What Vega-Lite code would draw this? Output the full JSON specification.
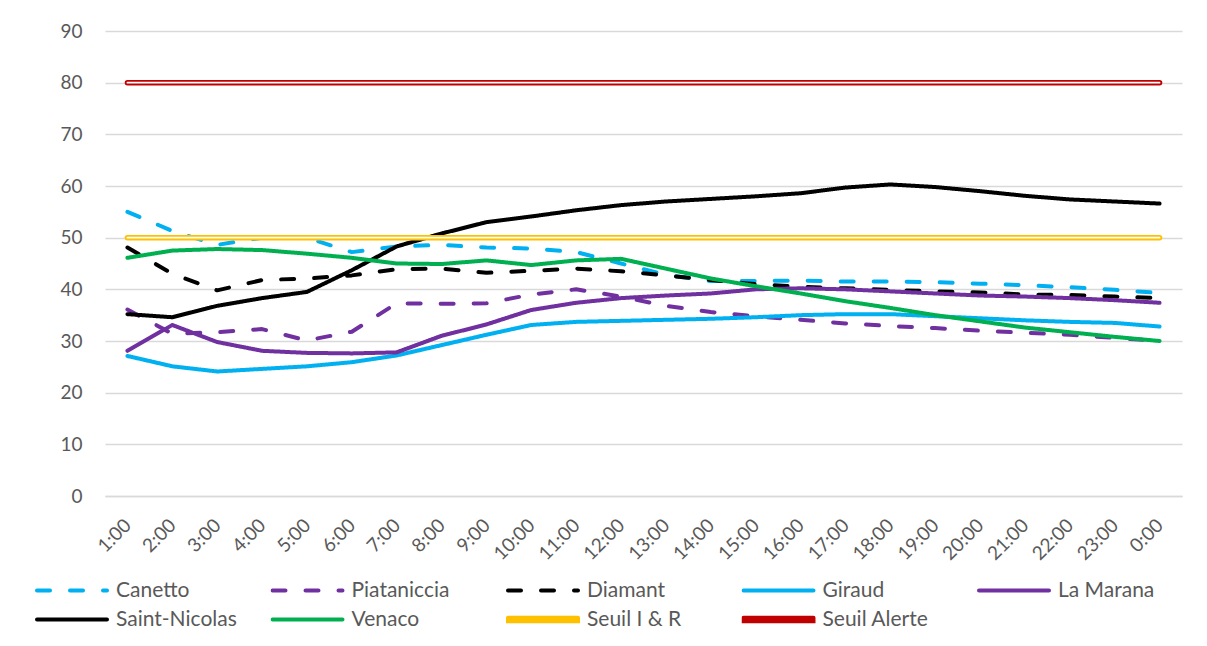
{
  "$schema": "https://vega.github.io/schema/vega-lite/v6.json",
  "autosize": "none",
  "width": 1077,
  "height": 465,
  "padding": {"left": 105, "top": 31, "right": 25, "bottom": 150},
  "background": "#ffffff",
  "config": {"view": {"stroke": null}, "font": "Lato"},
  "datasets": {
    "rows": [
      {"t":"1:00","s":"Canetto","v":55.0},{"t":"2:00","s":"Canetto","v":51.3},{"t":"3:00","s":"Canetto","v":48.6},{"t":"4:00","s":"Canetto","v":50.0},{"t":"5:00","s":"Canetto","v":50.0},{"t":"6:00","s":"Canetto","v":47.2},{"t":"7:00","s":"Canetto","v":48.3},{"t":"8:00","s":"Canetto","v":48.6},{"t":"9:00","s":"Canetto","v":48.1},{"t":"10:00","s":"Canetto","v":47.9},{"t":"11:00","s":"Canetto","v":47.2},{"t":"12:00","s":"Canetto","v":45.0},{"t":"13:00","s":"Canetto","v":42.8},{"t":"14:00","s":"Canetto","v":41.6},{"t":"15:00","s":"Canetto","v":41.6},{"t":"16:00","s":"Canetto","v":41.7},{"t":"17:00","s":"Canetto","v":41.5},{"t":"18:00","s":"Canetto","v":41.5},{"t":"19:00","s":"Canetto","v":41.4},{"t":"20:00","s":"Canetto","v":41.1},{"t":"21:00","s":"Canetto","v":40.8},{"t":"22:00","s":"Canetto","v":40.4},{"t":"23:00","s":"Canetto","v":39.9},{"t":"0:00","s":"Canetto","v":39.3},
      {"t":"1:00","s":"Piataniccia","v":36.1},{"t":"2:00","s":"Piataniccia","v":31.4},{"t":"3:00","s":"Piataniccia","v":31.7},{"t":"4:00","s":"Piataniccia","v":32.3},{"t":"5:00","s":"Piataniccia","v":30.1},{"t":"6:00","s":"Piataniccia","v":31.8},{"t":"7:00","s":"Piataniccia","v":37.3},{"t":"8:00","s":"Piataniccia","v":37.2},{"t":"9:00","s":"Piataniccia","v":37.3},{"t":"10:00","s":"Piataniccia","v":39.0},{"t":"11:00","s":"Piataniccia","v":40.0},{"t":"12:00","s":"Piataniccia","v":38.6},{"t":"13:00","s":"Piataniccia","v":36.8},{"t":"14:00","s":"Piataniccia","v":35.6},{"t":"15:00","s":"Piataniccia","v":34.8},{"t":"16:00","s":"Piataniccia","v":34.1},{"t":"17:00","s":"Piataniccia","v":33.4},{"t":"18:00","s":"Piataniccia","v":32.9},{"t":"19:00","s":"Piataniccia","v":32.5},{"t":"20:00","s":"Piataniccia","v":32.0},{"t":"21:00","s":"Piataniccia","v":31.6},{"t":"22:00","s":"Piataniccia","v":31.2},{"t":"23:00","s":"Piataniccia","v":30.6},{"t":"0:00","s":"Piataniccia","v":30.0},
      {"t":"1:00","s":"Diamant","v":48.1},{"t":"2:00","s":"Diamant","v":43.0},{"t":"3:00","s":"Diamant","v":39.8},{"t":"4:00","s":"Diamant","v":41.8},{"t":"5:00","s":"Diamant","v":42.1},{"t":"6:00","s":"Diamant","v":42.7},{"t":"7:00","s":"Diamant","v":43.9},{"t":"8:00","s":"Diamant","v":44.0},{"t":"9:00","s":"Diamant","v":43.2},{"t":"10:00","s":"Diamant","v":43.6},{"t":"11:00","s":"Diamant","v":44.0},{"t":"12:00","s":"Diamant","v":43.5},{"t":"13:00","s":"Diamant","v":42.7},{"t":"14:00","s":"Diamant","v":41.8},{"t":"15:00","s":"Diamant","v":41.0},{"t":"16:00","s":"Diamant","v":40.5},{"t":"17:00","s":"Diamant","v":40.2},{"t":"18:00","s":"Diamant","v":39.9},{"t":"19:00","s":"Diamant","v":39.6},{"t":"20:00","s":"Diamant","v":39.4},{"t":"21:00","s":"Diamant","v":39.0},{"t":"22:00","s":"Diamant","v":38.9},{"t":"23:00","s":"Diamant","v":38.6},{"t":"0:00","s":"Diamant","v":38.3},
      {"t":"1:00","s":"Giraud","v":27.1},{"t":"2:00","s":"Giraud","v":25.1},{"t":"3:00","s":"Giraud","v":24.1},{"t":"4:00","s":"Giraud","v":24.6},{"t":"5:00","s":"Giraud","v":25.1},{"t":"6:00","s":"Giraud","v":25.9},{"t":"7:00","s":"Giraud","v":27.2},{"t":"8:00","s":"Giraud","v":29.2},{"t":"9:00","s":"Giraud","v":31.2},{"t":"10:00","s":"Giraud","v":33.1},{"t":"11:00","s":"Giraud","v":33.7},{"t":"12:00","s":"Giraud","v":33.9},{"t":"13:00","s":"Giraud","v":34.1},{"t":"14:00","s":"Giraud","v":34.3},{"t":"15:00","s":"Giraud","v":34.6},{"t":"16:00","s":"Giraud","v":35.0},{"t":"17:00","s":"Giraud","v":35.2},{"t":"18:00","s":"Giraud","v":35.2},{"t":"19:00","s":"Giraud","v":34.8},{"t":"20:00","s":"Giraud","v":34.4},{"t":"21:00","s":"Giraud","v":34.0},{"t":"22:00","s":"Giraud","v":33.7},{"t":"23:00","s":"Giraud","v":33.5},{"t":"0:00","s":"Giraud","v":32.8},
      {"t":"1:00","s":"La Marana","v":28.1},{"t":"2:00","s":"La Marana","v":33.1},{"t":"3:00","s":"La Marana","v":29.8},{"t":"4:00","s":"La Marana","v":28.1},{"t":"5:00","s":"La Marana","v":27.7},{"t":"6:00","s":"La Marana","v":27.6},{"t":"7:00","s":"La Marana","v":27.8},{"t":"8:00","s":"La Marana","v":31.0},{"t":"9:00","s":"La Marana","v":33.2},{"t":"10:00","s":"La Marana","v":36.0},{"t":"11:00","s":"La Marana","v":37.4},{"t":"12:00","s":"La Marana","v":38.3},{"t":"13:00","s":"La Marana","v":38.8},{"t":"14:00","s":"La Marana","v":39.2},{"t":"15:00","s":"La Marana","v":40.0},{"t":"16:00","s":"La Marana","v":40.2},{"t":"17:00","s":"La Marana","v":40.0},{"t":"18:00","s":"La Marana","v":39.6},{"t":"19:00","s":"La Marana","v":39.2},{"t":"20:00","s":"La Marana","v":38.8},{"t":"21:00","s":"La Marana","v":38.6},{"t":"22:00","s":"La Marana","v":38.3},{"t":"23:00","s":"La Marana","v":37.9},{"t":"0:00","s":"La Marana","v":37.4},
      {"t":"1:00","s":"Saint-Nicolas","v":35.2},{"t":"2:00","s":"Saint-Nicolas","v":34.6},{"t":"3:00","s":"Saint-Nicolas","v":36.8},{"t":"4:00","s":"Saint-Nicolas","v":38.3},{"t":"5:00","s":"Saint-Nicolas","v":39.5},{"t":"6:00","s":"Saint-Nicolas","v":43.7},{"t":"7:00","s":"Saint-Nicolas","v":48.3},{"t":"8:00","s":"Saint-Nicolas","v":50.8},{"t":"9:00","s":"Saint-Nicolas","v":53.0},{"t":"10:00","s":"Saint-Nicolas","v":54.1},{"t":"11:00","s":"Saint-Nicolas","v":55.3},{"t":"12:00","s":"Saint-Nicolas","v":56.3},{"t":"13:00","s":"Saint-Nicolas","v":57.0},{"t":"14:00","s":"Saint-Nicolas","v":57.5},{"t":"15:00","s":"Saint-Nicolas","v":58.0},{"t":"16:00","s":"Saint-Nicolas","v":58.6},{"t":"17:00","s":"Saint-Nicolas","v":59.7},{"t":"18:00","s":"Saint-Nicolas","v":60.3},{"t":"19:00","s":"Saint-Nicolas","v":59.8},{"t":"20:00","s":"Saint-Nicolas","v":59.0},{"t":"21:00","s":"Saint-Nicolas","v":58.1},{"t":"22:00","s":"Saint-Nicolas","v":57.4},{"t":"23:00","s":"Saint-Nicolas","v":57.0},{"t":"0:00","s":"Saint-Nicolas","v":56.6},
      {"t":"1:00","s":"Venaco","v":46.1},{"t":"2:00","s":"Venaco","v":47.5},{"t":"3:00","s":"Venaco","v":47.8},{"t":"4:00","s":"Venaco","v":47.6},{"t":"5:00","s":"Venaco","v":46.9},{"t":"6:00","s":"Venaco","v":46.1},{"t":"7:00","s":"Venaco","v":45.0},{"t":"8:00","s":"Venaco","v":44.9},{"t":"9:00","s":"Venaco","v":45.6},{"t":"10:00","s":"Venaco","v":44.7},{"t":"11:00","s":"Venaco","v":45.6},{"t":"12:00","s":"Venaco","v":45.9},{"t":"13:00","s":"Venaco","v":44.0},{"t":"14:00","s":"Venaco","v":42.1},{"t":"15:00","s":"Venaco","v":40.6},{"t":"16:00","s":"Venaco","v":39.2},{"t":"17:00","s":"Venaco","v":37.7},{"t":"18:00","s":"Venaco","v":36.4},{"t":"19:00","s":"Venaco","v":35.0},{"t":"20:00","s":"Venaco","v":33.8},{"t":"21:00","s":"Venaco","v":32.6},{"t":"22:00","s":"Venaco","v":31.7},{"t":"23:00","s":"Venaco","v":30.8},{"t":"0:00","s":"Venaco","v":30.0},
      {"t":"1:00","s":"Seuil I & R","v":50},{"t":"2:00","s":"Seuil I & R","v":50},{"t":"3:00","s":"Seuil I & R","v":50},{"t":"4:00","s":"Seuil I & R","v":50},{"t":"5:00","s":"Seuil I & R","v":50},{"t":"6:00","s":"Seuil I & R","v":50},{"t":"7:00","s":"Seuil I & R","v":50},{"t":"8:00","s":"Seuil I & R","v":50},{"t":"9:00","s":"Seuil I & R","v":50},{"t":"10:00","s":"Seuil I & R","v":50},{"t":"11:00","s":"Seuil I & R","v":50},{"t":"12:00","s":"Seuil I & R","v":50},{"t":"13:00","s":"Seuil I & R","v":50},{"t":"14:00","s":"Seuil I & R","v":50},{"t":"15:00","s":"Seuil I & R","v":50},{"t":"16:00","s":"Seuil I & R","v":50},{"t":"17:00","s":"Seuil I & R","v":50},{"t":"18:00","s":"Seuil I & R","v":50},{"t":"19:00","s":"Seuil I & R","v":50},{"t":"20:00","s":"Seuil I & R","v":50},{"t":"21:00","s":"Seuil I & R","v":50},{"t":"22:00","s":"Seuil I & R","v":50},{"t":"23:00","s":"Seuil I & R","v":50},{"t":"0:00","s":"Seuil I & R","v":50},
      {"t":"1:00","s":"Seuil Alerte","v":80},{"t":"2:00","s":"Seuil Alerte","v":80},{"t":"3:00","s":"Seuil Alerte","v":80},{"t":"4:00","s":"Seuil Alerte","v":80},{"t":"5:00","s":"Seuil Alerte","v":80},{"t":"6:00","s":"Seuil Alerte","v":80},{"t":"7:00","s":"Seuil Alerte","v":80},{"t":"8:00","s":"Seuil Alerte","v":80},{"t":"9:00","s":"Seuil Alerte","v":80},{"t":"10:00","s":"Seuil Alerte","v":80},{"t":"11:00","s":"Seuil Alerte","v":80},{"t":"12:00","s":"Seuil Alerte","v":80},{"t":"13:00","s":"Seuil Alerte","v":80},{"t":"14:00","s":"Seuil Alerte","v":80},{"t":"15:00","s":"Seuil Alerte","v":80},{"t":"16:00","s":"Seuil Alerte","v":80},{"t":"17:00","s":"Seuil Alerte","v":80},{"t":"18:00","s":"Seuil Alerte","v":80},{"t":"19:00","s":"Seuil Alerte","v":80},{"t":"20:00","s":"Seuil Alerte","v":80},{"t":"21:00","s":"Seuil Alerte","v":80},{"t":"22:00","s":"Seuil Alerte","v":80},{"t":"23:00","s":"Seuil Alerte","v":80},{"t":"0:00","s":"Seuil Alerte","v":80}
    ]
  },
  "data": {"name": "rows"},
  "encoding": {
    "x": {
      "field": "t", "type": "ordinal", "sort": null,
      "scale": {"type": "point", "padding": 0.5},
      "axis": {
        "title": null, "labelAngle": -45, "labelAlign": "right", "labelBaseline": "middle",
        "labelPadding": 26, "ticks": false, "tickSize": 0, "labelFont": "Lato", "labelFontSize": 19,
        "labelColor": "#595959", "domainColor": "#d9d9d9", "domainWidth": 1.3, "grid": false
      }
    },
    "y": {
      "field": "v", "type": "quantitative",
      "scale": {"domain": [0, 90], "nice": false, "zero": true},
      "axis": {
        "title": null, "values": [0,10,20,30,40,50,60,70,80,90], "ticks": false, "tickSize": 0,
        "domain": false, "labelPadding": 23, "labelFont": "Lato", "labelFontSize": 19,
        "labelColor": "#595959", "gridColor": "#d9d9d9", "gridWidth": 1.3
      }
    }
  },
  "layer": [
    {
      "mark": {"type": "line", "strokeWidth": 4, "strokeCap": "round", "strokeJoin": "round"},
      "encoding": {
        "color": {
          "field": "s", "type": "nominal",
          "scale": {
            "domain": ["Canetto","Piataniccia","Diamant","Giraud","La Marana","Saint-Nicolas","Venaco","Seuil I & R","Seuil Alerte"],
            "range": ["#00B0F0","#7030A0","#000000","#00B0F0","#7030A0","#000000","#00B050","#FFC000","#C00000"]
          },
          "legend": {
            "title": null, "orient": "none", "legendX": -70, "legendY": 548,
            "direction": "horizontal", "columns": 5, "columnPadding": 33.5, "rowPadding": 6,
            "clipHeight": 23,
            "gridAlign": "all", "padding": 0,
            "labelFont": "Lato", "labelFontSize": 21, "labelColor": "#595959", "labelOffset": 7,
            "symbolType": "stroke", "symbolSize": 4900, "symbolStrokeWidth": 4,
            "encode": {
              "symbols": {
                "update": {
                  "shape": {"signal": "indexof(datum.value,'Seuil')===0 ? 'M-1,-0.05H1V0.05H-1Z' : 'stroke'"},
                  "fill": {"signal": "indexof(datum.value,'Seuil')===0 ? '#ffffff' : 'transparent'"},
                  "strokeWidth": {"signal": "indexof(datum.value,'Seuil')===0 ? 1.8 : 4"},
                  "strokeCap": {"value": "round"}
                }
              }
            }
          }
        },
        "strokeDash": {
          "field": "s", "type": "nominal",
          "scale": {
            "domain": ["Canetto","Piataniccia","Diamant","Giraud","La Marana","Saint-Nicolas","Venaco","Seuil I & R","Seuil Alerte"],
            "range": [[13,20],[13,20],[13,20],[1,0],[1,0],[1,0],[1,0],[1,0],[1,0]]
          },
          "legend": null
        },
        "strokeWidth": {
          "field": "s", "type": "nominal",
          "scale": {
            "domain": ["Canetto","Piataniccia","Diamant","Giraud","La Marana","Saint-Nicolas","Venaco","Seuil I & R","Seuil Alerte"],
            "range": [4,4,4,4,4,4,4,5.5,5.5]
          },
          "legend": null
        }
      }
    },
    {
      "transform": [{"filter": "datum.s==='Seuil I & R'"}],
      "mark": {"type": "line", "color": "#FFC000", "strokeWidth": 5.5, "strokeCap": "round"},
      "encoding": {"detail": {"field": "s", "type": "nominal"}}
    },
    {
      "transform": [{"filter": "datum.s==='Seuil Alerte'"}],
      "mark": {"type": "line", "color": "#C00000", "strokeWidth": 5.5, "strokeCap": "round"},
      "encoding": {"detail": {"field": "s", "type": "nominal"}}
    },
    {
      "transform": [{"filter": "indexof(datum.s,'Seuil')===0"}],
      "mark": {"type": "line", "color": "#ffffff", "strokeWidth": 1.7, "strokeCap": "round"},
      "encoding": {"detail": {"field": "s", "type": "nominal"}}
    }
  ]
}
